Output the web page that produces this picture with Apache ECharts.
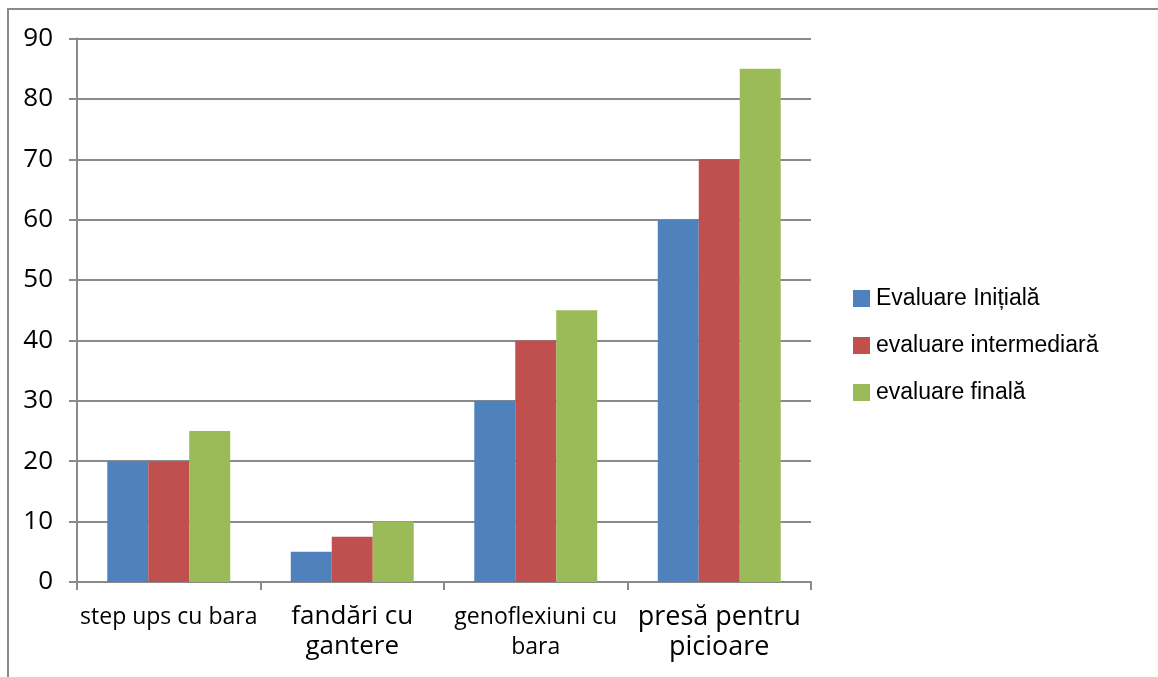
<!DOCTYPE html>
<html>
<head>
<meta charset="utf-8">
<script src="https://cdn.jsdelivr.net/npm/echarts@6/dist/echarts.min.js"></script>
<style>
html,body{margin:0;padding:0;background:#fff;}
#chart{width:1158px;height:677px;}
</style>
</head>
<body>
<div id="chart"></div>
<script>
var categories = ['step ups cu bara', 'fandări cu\ngantere', 'genoflexiuni cu\nbara', 'presă pentru\npicioare'];
var categoryFontSizes = [23, 26, 23, 27];
var seriesNames = ['Evaluare Inițială', 'evaluare intermediară', 'evaluare finală'];
var initiala = [20, 5, 30, 60];
var intermediara = [20, 7.5, 40, 70];
var finala = [25, 10, 45, 85];
var yTicks = [0, 10, 20, 30, 40, 50, 60, 70, 80, 90];

var colors = ['#4F81BD', '#C0504D', '#9BBB59'];
var gridColor = '#8a8a8a';
var font = '"Open Sans", "Noto Sans", sans-serif';

var chart = echarts.init(document.getElementById('chart'));
var seriesData = [initiala, intermediara, finala];

chart.setOption({
  animation: false,
  backgroundColor: '#fff',
  color: colors,
  graphic: [{
    type: 'rect',
    shape: { x: 8, y: 9, width: 1300, height: 800 },
    style: { fill: 'none', stroke: '#8a8a8a', lineWidth: 2 },
    silent: true
  }],
  grid: { left: 77, right: 347, top: 38.5, bottom: 95, containLabel: false },
  legend: {
    orient: 'vertical',
    left: 848,
    top: 282,
    itemWidth: 17,
    itemHeight: 17,
    itemGap: 24,
    icon: 'rect',
    textStyle: { fontFamily: '"Liberation Sans", Arial, sans-serif', fontSize: 23, color: '#000', padding: [0,0,0,1] },
    data: seriesNames
  },
  xAxis: {
    type: 'category',
    data: categories.map(function (c, i) {
      return { value: c, textStyle: { fontSize: categoryFontSizes[i] } };
    }),
    axisLine: { lineStyle: { color: gridColor, width: 2 } },
    axisTick: { show: true, length: 8, lineStyle: { color: gridColor, width: 2 } },
    axisLabel: { fontFamily: font, color: '#000', margin: 20, lineHeight: 30, interval: 0 }
  },
  yAxis: {
    type: 'value',
    min: 0,
    max: 90,
    interval: 10,
    axisLine: { show: true, lineStyle: { color: gridColor, width: 2 } },
    axisTick: { show: true, length: 8, lineStyle: { color: gridColor, width: 2 } },
    splitLine: { lineStyle: { color: gridColor, width: 2 } },
    axisLabel: {
      fontFamily: font, fontSize: 26, color: '#000', margin: 24,
      formatter: function (v) { return yTicks.indexOf(v) >= 0 ? String(v) : ''; }
    }
  },
  series: seriesNames.map(function (name, i) {
    return {
      name: name,
      type: 'bar',
      data: seriesData[i],
      barGap: '0%',
      barCategoryGap: '33%',
      itemStyle: { color: colors[i] }
    };
  })
});
</script>
</body>
</html>
